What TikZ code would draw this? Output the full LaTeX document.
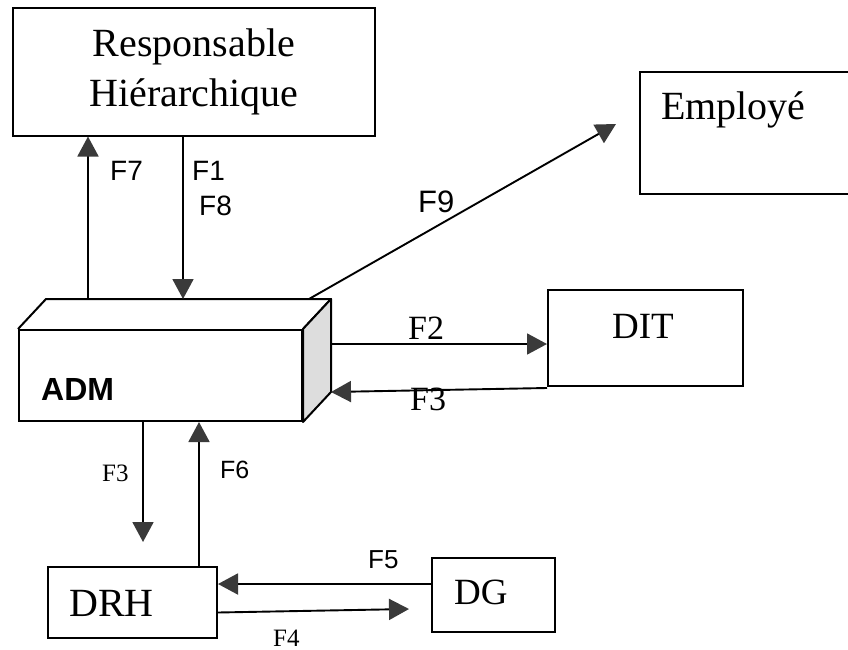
\documentclass[tikz,border=0pt]{standalone}
\usepackage{fontspec}
\setmainfont{Liberation Serif}
\setsansfont{Liberation Sans}
\usetikzlibrary{arrows.meta, calc}

\definecolor{tipgray}{HTML}{3A3A3A}
\definecolor{sidegray}{HTML}{DDDDDD}

\tikzset{
	box/.style={draw, line width=2pt, inner sep=0pt},
	flow/.style={line width=1.9pt, -{Triangle[width=21pt,length=20pt,fill=tipgray,color=tipgray]}},
	boxtext/.style={anchor=base west, inner sep=0pt, font=\fontsize{#1}{50}\selectfont},
	labsans/.style={anchor=base west, inner sep=0pt, font=\sffamily\fontsize{#1}{#1}\selectfont},
	labserif/.style={anchor=base west, inner sep=0pt, font=\rmfamily\fontsize{#1}{#1}\selectfont}
}

\begin{document}
\begin{tikzpicture}[x=1pt, y=-1pt]
	\useasboundingbox (0,0) rectangle (848,650);
	\clip (0,0) rectangle (848,650);

\node[box, minimum width=362pt, minimum height=127pt, align=center, font=\fontsize{40}{50}\selectfont] (rh) at (194,72) {Responsable\\Hiérarchique};
\node[box, minimum width=220pt, minimum height=122pt] (emp) at (750,133) {};
\node[boxtext=40] (emptxt) at (661,120) {Employé};
\node[box, minimum width=195pt, minimum height=96pt] (dit) at (645.5,338) {};
\node[boxtext=37] (dittxt) at (612,338) {DIT};
\node[box, minimum width=169pt, minimum height=71pt] (drh) at (132.5,602.5) {};
\node[boxtext=40] (drhtxt) at (69,616) {DRH};
\node[box, minimum width=123pt, minimum height=74pt] (dg) at (493.5,595) {};
\node[boxtext=37] (dgtxt) at (454,604) {DG};

% ADM en boite 3D
\node[box, minimum width=283pt, minimum height=91pt] (adm) at (160.5,375.5) {};
\coordinate (admbl) at ($(adm.north west)+(28,-30)$);
\coordinate (admbr) at ($(adm.north east)+(28,-30)$);
\coordinate (admbb) at ($(adm.south east)+(28,-30)$);
\draw[line width=2pt, line join=round] (adm.north west) -- (admbl) -- (admbr) -- (adm.north east);
\draw[line width=2pt, line join=round, fill=sidegray] (adm.north east) -- (admbr) -- (admbb) -- (adm.south east) -- cycle;
\node[anchor=base west, inner sep=0pt, font=\sffamily\bfseries\fontsize{32}{32}\selectfont] (admtxt) at (41,400) {ADM};

\coordinate (f9end) at (616,124);
\coordinate (f3end) at (143,542);
\coordinate (f4end) at (409,609);

\draw[flow] ([xshift=42pt]admbl) -- ([xshift=42pt]admbl |- rh.south);
\draw[flow] ([xshift=137pt]admbl |- rh.south) -- ([xshift=137pt]admbl);
\draw[flow] ([xshift=-22pt]admbr) -- (f9end);
\draw[flow] ([yshift=-6pt]dit.west -| admbr) -- ([yshift=-6pt]dit.west);
\draw[flow] ([yshift=-1pt]dit.south west) -- ([yshift=-5pt]dit.south west -| admbr);
\draw[flow] (adm.south -| f3end) -- (f3end);
\draw[flow] ([xshift=152pt]drh.north west) -- ([xshift=152pt]drh.north west |- adm.south);
\draw[flow] ([yshift=11pt]dg.west) -- ([yshift=11pt]dg.west -| drh.east);
\draw[flow] ([yshift=-10pt]drh.east) -- (f4end);

\node[labsans=28] (f7) at (110,180) {F7};
\node[labsans=28] (f1) at (192,180) {F1};
\node[labsans=28] (f8) at (199,215) {F8};
\node[labsans=31] (f9) at (418,212) {F9};
\node[labserif=34] (f2) at (408,339) {F2};
\node[labserif=34] (f3a) at (410,410) {F3};
\node[labserif=25] (f3b) at (102,481) {F3};
\node[labsans=25] (f6) at (220,478) {F6};
\node[labsans=26] (f5) at (368,568) {F5};
\node[labserif=25] (f4) at (273,646) {F4};

\end{tikzpicture}
\end{document}
